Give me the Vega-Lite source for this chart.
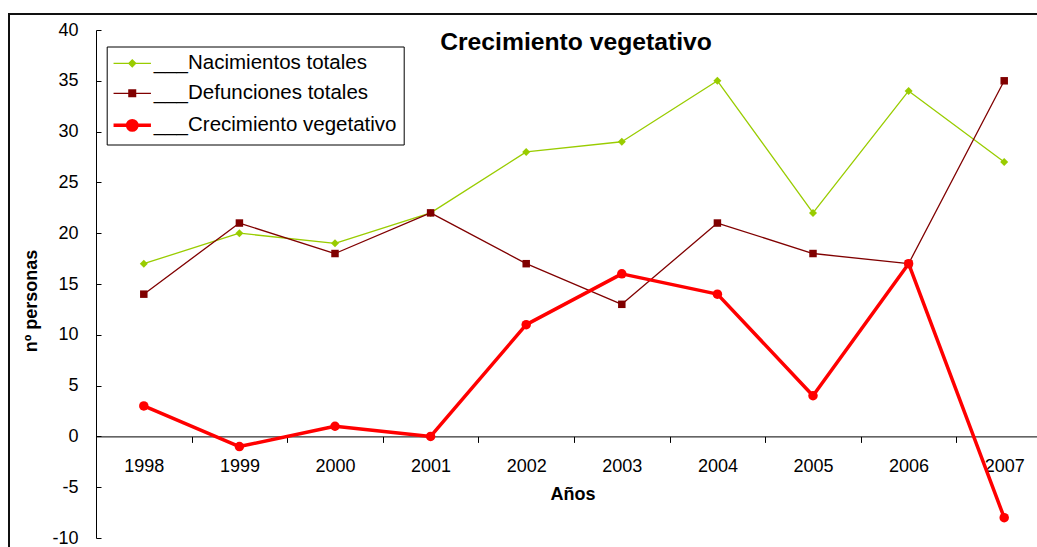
{
  "$schema": "https://vega.github.io/schema/vega-lite/v6.json",
  "width": 941,
  "height": 508,
  "autosize": {"type": "none"},
  "padding": {"left": 96, "top": 30, "right": 0, "bottom": 9},
  "background": "white",
  "config": {"view": {"stroke": null}, "font": "Liberation Sans"},
  "title": {"text": "Crecimiento vegetativo", "font": "Liberation Sans", "fontSize": 24.7, "fontWeight": "bold", "color": "black", "anchor": "middle", "frame": "group", "baseline": "alphabetic", "offset": 0, "dx": 9.5, "dy": 62},
  "data": {"values": [
    {"year": 1998, "series": "___Nacimientos totales", "value": 17},
    {"year": 1999, "series": "___Nacimientos totales", "value": 20},
    {"year": 2000, "series": "___Nacimientos totales", "value": 19},
    {"year": 2001, "series": "___Nacimientos totales", "value": 22},
    {"year": 2002, "series": "___Nacimientos totales", "value": 28},
    {"year": 2003, "series": "___Nacimientos totales", "value": 29},
    {"year": 2004, "series": "___Nacimientos totales", "value": 35},
    {"year": 2005, "series": "___Nacimientos totales", "value": 22},
    {"year": 2006, "series": "___Nacimientos totales", "value": 34},
    {"year": 2007, "series": "___Nacimientos totales", "value": 27},
    {"year": 1998, "series": "___Defunciones totales", "value": 14},
    {"year": 1999, "series": "___Defunciones totales", "value": 21},
    {"year": 2000, "series": "___Defunciones totales", "value": 18},
    {"year": 2001, "series": "___Defunciones totales", "value": 22},
    {"year": 2002, "series": "___Defunciones totales", "value": 17},
    {"year": 2003, "series": "___Defunciones totales", "value": 13},
    {"year": 2004, "series": "___Defunciones totales", "value": 21},
    {"year": 2005, "series": "___Defunciones totales", "value": 18},
    {"year": 2006, "series": "___Defunciones totales", "value": 17},
    {"year": 2007, "series": "___Defunciones totales", "value": 35},
    {"year": 1998, "series": "___Crecimiento vegetativo", "value": 3},
    {"year": 1999, "series": "___Crecimiento vegetativo", "value": -1},
    {"year": 2000, "series": "___Crecimiento vegetativo", "value": 1},
    {"year": 2001, "series": "___Crecimiento vegetativo", "value": 0},
    {"year": 2002, "series": "___Crecimiento vegetativo", "value": 11},
    {"year": 2003, "series": "___Crecimiento vegetativo", "value": 16},
    {"year": 2004, "series": "___Crecimiento vegetativo", "value": 14},
    {"year": 2005, "series": "___Crecimiento vegetativo", "value": 4},
    {"year": 2006, "series": "___Crecimiento vegetativo", "value": 17},
    {"year": 2007, "series": "___Crecimiento vegetativo", "value": -8}
  ]},
  "resolve": {"axis": {"x": "independent"}},
  "layer": [
    {
      "mark": {"type": "line", "strokeJoin": "round"},
      "encoding": {
        "x": {"field": "year", "type": "quantitative",
          "scale": {"domain": [1997.5, 2007.343], "nice": false, "zero": false},
          "axis": {"orient": "bottom", "values": [1997.5, 1998.5, 1999.5, 2000.5, 2001.5, 2002.5, 2003.5, 2004.5, 2005.5, 2006.5], "labels": false, "ticks": true, "tickSize": 6, "tickColor": "black", "tickWidth": 1, "domain": true, "domainColor": "black", "domainWidth": 1, "grid": false, "title": null, "offset": -101.6}},
        "y": {"field": "value", "type": "quantitative",
          "scale": {"domain": [-10, 40], "nice": false, "zero": false},
          "axis": {"values": [-10, -5, 0, 5, 10, 15, 20, 25, 30, 35, 40], "labelExpr": "'' + datum.value", "tickSize": -5, "tickColor": "black", "domainColor": "black", "grid": false, "labelPadding": 23, "labelFont": "Liberation Sans", "labelFontSize": 18, "labelColor": "black", "labelFlush": false, "labelOverlap": false, "title": "nº personas", "titleFont": "Liberation Sans", "titleFontSize": 18, "titleFontWeight": "bold", "titleColor": "black", "titleAngle": -90, "titleX": -65, "titleY": 270.5, "titleAlign": "center", "titleBaseline": "middle"}},
        "color": {"field": "series", "type": "nominal",
          "scale": {"domain": ["___Nacimientos totales", "___Defunciones totales", "___Crecimiento vegetativo"], "range": ["#99CC00", "#800000", "#FF0000"]},
          "legend": {"orient": "none", "legendX": 10.7, "legendY": 16.5, "title": null, "fillColor": "white", "strokeColor": "black", "padding": 6.6, "rowPadding": 9, "labelFont": "Liberation Sans", "labelFontSize": 20.5, "labelColor": "black", "labelOffset": 20, "labelLimit": 400, "symbolSize": 100,
            "encode": {"symbols": {"update": {
              "shape": {"signal": "datum.value === '___Nacimientos totales' ? 'M-2,0L5.48,0M1.04,0L1.74,-0.7L2.44,0L1.74,0.7Z' : datum.value === '___Defunciones totales' ? 'M-2,0L5.48,0M1.07,-0.67L2.41,-0.67L2.41,0.67L1.07,0.67Z' : 'M-2,0L5.48,0M0.81,0A0.93,0.93,0,1,1,2.67,0A0.93,0.93,0,1,1,0.81,0Z'"},
              "fill": {"scale": "color", "field": "value"},
              "stroke": {"scale": "color", "field": "value"},
              "strokeWidth": {"signal": "datum.value === '___Crecimiento vegetativo' ? 3.5 : 1.3"},
              "opacity": {"value": 1},
              "fillOpacity": {"value": 1},
              "strokeOpacity": {"value": 1}
            }}}}},
        "strokeWidth": {"field": "series", "type": "nominal",
          "scale": {"type": "ordinal", "domain": ["___Nacimientos totales", "___Defunciones totales", "___Crecimiento vegetativo"], "range": [1.3, 1.3, 3.5]},
          "legend": null}
      }
    },
    {
      "transform": [{"filter": "datum.series === '___Nacimientos totales'"}],
      "mark": {"type": "point", "shape": "diamond", "size": 64, "filled": true, "opacity": 1, "strokeWidth": 0, "color": "#99CC00"},
      "encoding": {
        "x": {"field": "year", "type": "quantitative",
          "scale": {"domain": [1997.5, 2007.343], "nice": false, "zero": false},
          "axis": {"orient": "bottom", "values": [1998, 1999, 2000, 2001, 2002, 2003, 2004, 2005, 2006, 2007], "format": "d", "ticks": false, "domain": false, "grid": false, "labelPadding": 21, "labelFont": "Liberation Sans", "labelFontSize": 18, "labelColor": "black", "labelFlush": false, "labelOverlap": false, "labelBound": false, "offset": -101.6, "title": "Años", "titleFont": "Liberation Sans", "titleFontSize": 18, "titleFontWeight": "bold", "titleColor": "black", "titleX": 476.5, "titleY": 63, "titleAlign": "center", "titleBaseline": "alphabetic"}},
        "y": {"field": "value", "type": "quantitative", "scale": {"domain": [-10, 40], "nice": false, "zero": false}}
      }
    },
    {
      "transform": [{"filter": "datum.series === '___Defunciones totales'"}],
      "mark": {"type": "point", "shape": "square", "size": 56, "filled": true, "opacity": 1, "strokeWidth": 0, "color": "#800000"},
      "encoding": {
        "x": {"field": "year", "type": "quantitative", "scale": {"domain": [1997.5, 2007.343], "nice": false, "zero": false}, "axis": null},
        "y": {"field": "value", "type": "quantitative", "scale": {"domain": [-10, 40], "nice": false, "zero": false}}
      }
    },
    {
      "transform": [{"filter": "datum.series === '___Crecimiento vegetativo'"}],
      "mark": {"type": "point", "shape": "circle", "size": 90, "filled": true, "opacity": 1, "strokeWidth": 0, "color": "#FF0000"},
      "encoding": {
        "x": {"field": "year", "type": "quantitative", "scale": {"domain": [1997.5, 2007.343], "nice": false, "zero": false}, "axis": null},
        "y": {"field": "value", "type": "quantitative", "scale": {"domain": [-10, 40], "nice": false, "zero": false}}
      }
    },
    {
      "mark": {"type": "rect", "clip": false, "fill": null, "fillOpacity": 0, "stroke": "#111111", "strokeWidth": 1.6},
      "encoding": {
        "x": {"datum": 1996.59, "type": "quantitative", "axis": null},
        "x2": {"datum": 2008.5},
        "y": {"datum": 41.6, "type": "quantitative"},
        "y2": {"datum": -15}
      }
    }
  ]
}
